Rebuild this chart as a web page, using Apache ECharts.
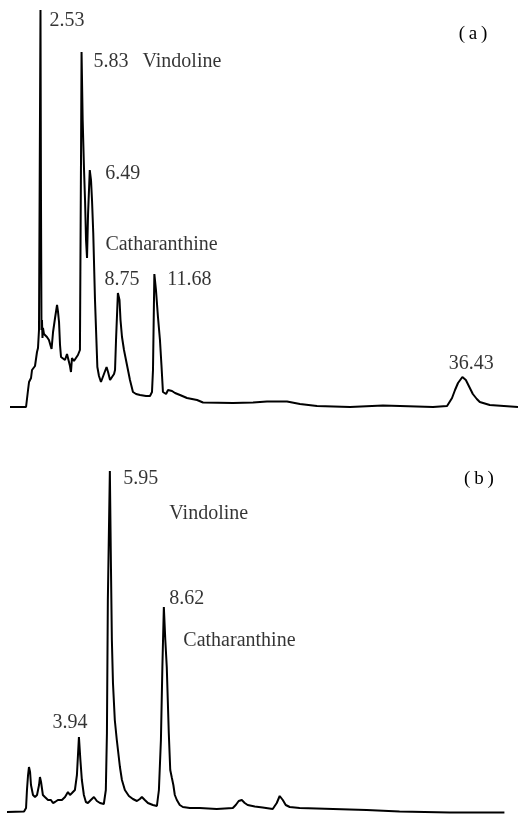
<!DOCTYPE html>
<html>
<head>
<meta charset="utf-8">
<script src="https://cdn.jsdelivr.net/npm/echarts@6/dist/echarts.min.js"></script>
<style>html,body{margin:0;padding:0;background:#fff}#c{width:518px;height:816px}</style>
</head>
<body>
<div id="c"></div>
<script>
// ---- Trace (a): retention time (min) vs detector signal (% of full scale)
const timeA = [0.08,1.37,1.45,1.53,1.61,1.77,1.85,1.93,2.09,2.17,2.25,2.33,2.41,2.53,2.57,2.61,2.65,2.69,2.73,2.81,2.89,3.05,3.21,3.29,3.42,3.54,3.70,3.86,3.94,4.02,4.10,4.18,4.34,4.50,4.66,4.74,4.90,4.98,5.06,5.22,5.38,5.54,5.70,5.79,5.83,5.92,6.03,6.11,6.19,6.27,6.35,6.49,6.59,6.67,6.77,6.91,7.10,7.23,7.39,7.51,7.63,7.84,7.96,8.12,8.28,8.44,8.52,8.60,8.75,8.88,8.96,9.08,9.24,9.48,9.72,9.96,10.21,10.53,11.01,11.33,11.49,11.57,11.68,11.81,11.97,12.13,12.25,12.37,12.62,12.78,12.94,13.10,13.34,13.74,14.30,15.11,15.59,18.00,19.61,20.73,22.34,23.38,24.75,27.40,30.05,31.42,34.07,35.20,35.60,35.84,36.08,36.43,36.71,36.95,37.27,37.59,37.83,38.63,40.90];
const signalA = [0,0,0.25,4.25,6.25,7.25,9.25,9.75,10.25,10.75,13.75,14.75,19.25,99.25,51.75,19.25,21.75,17.25,19.75,18.25,18.0,17.5,16.75,16.25,14.5,18.75,22.25,25.5,23.75,21.25,15.5,12.5,12.25,11.75,13.25,13.75,10.25,8.75,12.25,11.5,12.25,13.0,14.25,64.25,88.75,71.75,59.25,51.75,41.75,37.25,48.0,59.25,56.75,51.75,43.5,26.75,10.0,7.75,6.25,6.5,8.25,10.0,8.75,6.75,7.25,8.25,9.25,16.75,28.5,26.75,21.75,17.5,14.25,10.5,6.75,3.75,3.25,3.0,2.75,2.75,3.75,9.25,33.25,29.25,22.5,16.75,10.5,3.75,3.25,4.25,4.5,4.0,3.5,3.0,2.25,1.75,1.125,1.0,1.125,1.375,1.375,0.75,0.25,0,0.375,0.25,0,0.25,2.25,4.25,6.0,7.5,6.75,5.25,3.25,2.0,1.25,0.5,0];
const peakTimesA = [2.53,5.83,6.49,8.75,11.68,36.43];
const peakHeightsA = [99.25,88.75,59.25,28.5,33.25,7.5];
const peakLabelsA = ['2.53','5.83','6.49','8.75','11.68','36.43'];
const compoundNamesA = ['Vindoline','Catharanthine'];
const compoundPeakA = [1,3];

// ---- Trace (b)
const timeB = [0.11,1.04,1.15,1.20,1.26,1.31,1.37,1.42,1.53,1.64,1.75,1.86,1.91,1.97,2.07,2.18,2.35,2.51,2.62,2.73,2.89,3.11,3.28,3.38,3.44,3.55,3.66,3.82,3.93,4.04,4.12,4.20,4.31,4.42,4.53,4.69,4.86,5.02,5.19,5.40,5.51,5.57,5.62,5.73,5.79,5.84,5.90,6.00,6.11,6.28,6.39,6.55,6.77,6.99,7.21,7.37,7.48,7.64,7.81,8.08,8.30,8.41,8.52,8.60,8.68,8.76,8.84,8.95,9.03,9.12,9.20,9.28,9.39,9.55,9.72,10.10,10.64,11.57,12.45,12.61,12.77,12.94,13.10,13.26,13.65,14.08,14.63,14.85,15.01,15.18,15.34,15.56,16.10,17.03,18.83,19.76,21.56,24.29,27.29];
const signalB = [0.25,0.375,1.25,5.75,9.5,11.5,10.25,7.0,4.5,4.0,4.5,7.0,9.0,7.75,4.5,4.0,3.25,3.25,2.5,2.75,3.25,3.25,4.0,4.25,5.25,4.5,5.0,5.75,9.5,19.0,13.25,8.25,4.5,2.75,2.5,3.25,4.0,3.0,2.5,2.25,5.75,20.0,53.25,85.5,61.5,43.25,32.5,23.25,18.25,11.5,8.25,5.75,4.25,3.5,3.0,3.5,4.0,3.25,2.5,2.0,1.75,5.75,18.25,36.5,51.5,43.25,36.5,20.0,10.75,8.75,7.0,4.5,3.25,2.0,1.5,1.25,1.25,1.0,1.25,2.0,3.0,3.25,2.5,2.0,1.625,1.375,1.0,2.5,4.25,3.25,2.0,1.5,1.25,1.125,0.875,0.75,0.375,0.125,0.125];
const peakTimesB = [4.04,5.73,8.68];
const peakHeightsB = [19.0,85.5,51.5];
const peakLabelsB = ['3.94','5.95','8.62'];
const compoundNamesB = ['Vindoline','Catharanthine'];
const compoundPeakB = [1,2];

// ---- layout (label offsets in px from the peak apex)
const rtOffA = [[9.5,11],[12.5,10],[16,4],[-13,-12.5],[13.5,6.5],[9.5,-13]];
const rtAlignA = ['left','left','left','left','left','center'];
const cmpOffA = [[61.5,10],[-12,-47.5]];
const rtOffB = [[-26,-14],[14,8],[6,-7.5]];
const cmpOffB = [[60,43.5],[20,34]];

const FONT = 'Liberation Serif';
const zip = (a,b) => a.map((v,i) => [v,b[i]]);

function labelPts(times, heights, texts, offs, aligns) {
  return times.map((t,i) => ({
    value: [t, heights[i]],
    label: {
      show: true, formatter: texts[i], position: offs[i],
      align: aligns ? aligns[i] : 'left', verticalAlign: 'middle',
      fontFamily: FONT, fontSize: 20, color: '#000'
    }
  }));
}

const chart = echarts.init(document.getElementById('c'), null, {renderer:'canvas'});
const lineStyle = {color:'#000', width:2};
const option = {
  animation: false,
  backgroundColor: '#fff',
  grid: [
    {left: 9, right: 0, top: 7, height: 400},
    {left: 5, right: 0.6, top: 413, height: 400}
  ],
  xAxis: [
    {type:'value', gridIndex:0, min:0, max:40.9, show:false},
    {type:'value', gridIndex:1, min:0, max:28, show:false}
  ],
  yAxis: [
    {type:'value', gridIndex:0, min:0, max:100, show:false},
    {type:'value', gridIndex:1, min:0, max:100, show:false}
  ],
  series: [
    {type:'line', xAxisIndex:0, yAxisIndex:0, data: zip(timeA, signalA), showSymbol:false, symbol:'none', lineStyle, clip:false, silent:true},
    {type:'line', xAxisIndex:1, yAxisIndex:1, data: zip(timeB, signalB), showSymbol:false, symbol:'none', lineStyle, clip:false, silent:true},
    {type:'scatter', xAxisIndex:0, yAxisIndex:0, symbolSize:1, itemStyle:{color:'rgba(0,0,0,0)'}, silent:true,
      data: labelPts(peakTimesA, peakHeightsA, peakLabelsA, rtOffA, rtAlignA)
        .concat(labelPts(compoundPeakA.map(i=>peakTimesA[i]), compoundPeakA.map(i=>peakHeightsA[i]), compoundNamesA, cmpOffA))},
    {type:'scatter', xAxisIndex:1, yAxisIndex:1, symbolSize:1, itemStyle:{color:'rgba(0,0,0,0)'}, silent:true,
      data: labelPts(peakTimesB, peakHeightsB, peakLabelsB, rtOffB)
        .concat(labelPts(compoundPeakB.map(i=>peakTimesB[i]), compoundPeakB.map(i=>peakHeightsB[i]), compoundNamesB, cmpOffB))}
  ],
  graphic: [
    {type:'text', x:473, y:34, style:{text:'(\u2009a\u2009)', font:'19px "Liberation Serif"', fill:'#000', align:'center', verticalAlign:'middle'}},
    {type:'text', x:479, y:479, style:{text:'(\u2009b\u2009)', font:'19px "Liberation Serif"', fill:'#000', align:'center', verticalAlign:'middle'}}
  ]
};
chart.setOption(option);
</script>
</body>
</html>
